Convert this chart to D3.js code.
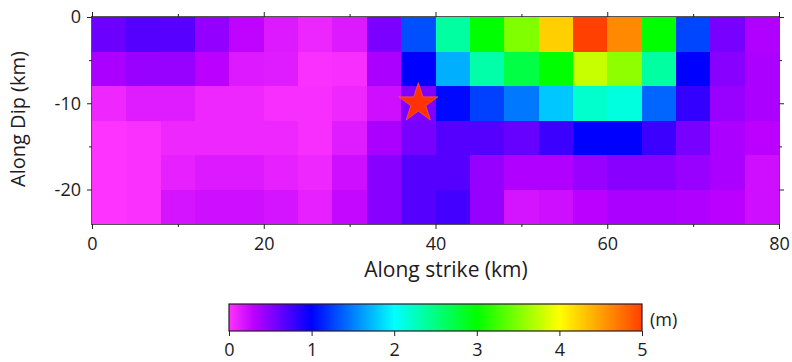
<!DOCTYPE html>
<html>
<head>
<meta charset="utf-8">
<script src="https://cdn.jsdelivr.net/npm/d3@7"></script>
<style>
  html, body { margin: 0; padding: 0; background: #fff; }
  svg { display: block; }
  text { font-family: "Open Sans", "DejaVu Sans", sans-serif; fill: #221a22; }
</style>
</head>
<body>
<svg id="chart" width="792" height="362"></svg>
<script>
// Fault patches: left edge along strike (km), top edge along dip (km)
const strikeStarts = [0, 4, 8, 12, 16, 20, 24, 28, 32, 36, 40, 44, 48, 52, 56, 60, 64, 68, 72, 76];
const dipStarts = [0, -4, -8, -12, -16, -20];
const patchSize = 4;

// Slip (m) per patch, one row per depth band, shallowest first
const slipRow1 = [0.60, 0.68, 0.67, 0.45, 0.28, 0.15, 0.08, 0.15, 0.54, 1.31, 2.37, 3.00, 3.50, 4.25, 5.00, 4.62, 3.00, 1.27, 0.55, 0.34];
const slipRow2 = [0.36, 0.43, 0.43, 0.30, 0.15, 0.14, 0.02, 0.03, 0.36, 1.00, 1.69, 2.34, 2.73, 3.00, 3.78, 3.56, 2.37, 1.00, 0.49, 0.36];
const slipRow3 = [0.07, 0.14, 0.14, 0.07, 0.07, 0.03, 0.03, 0.07, 0.22, 0.52, 1.03, 1.25, 1.47, 1.78, 2.20, 2.13, 1.40, 0.81, 0.43, 0.36];
const slipRow4 = [0.00, 0.02, 0.07, 0.07, 0.07, 0.07, 0.03, 0.14, 0.36, 0.55, 0.68, 0.68, 0.62, 0.78, 1.00, 1.00, 0.78, 0.55, 0.36, 0.30];
const slipRow5 = [0.00, 0.02, 0.11, 0.15, 0.15, 0.11, 0.07, 0.22, 0.49, 0.68, 0.68, 0.44, 0.34, 0.34, 0.43, 0.49, 0.49, 0.43, 0.36, 0.22];
const slipRow6 = [0.00, 0.02, 0.19, 0.22, 0.22, 0.19, 0.11, 0.26, 0.49, 0.68, 0.75, 0.44, 0.19, 0.22, 0.30, 0.36, 0.36, 0.34, 0.30, 0.22];
const slipRows = [slipRow1, slipRow2, slipRow3, slipRow4, slipRow5, slipRow6];

// Hypocenter
const hypoStrike = 38;
const hypoDip = -10;

// Axis ticks
const xMajorTicks = [0, 20, 40, 60, 80];
const xMinorTicks = [10, 30, 50, 70];
const yMajorTicks = [0, -10, -20];
const yMinorTicks = [-5, -15];
const colorTicks = [0, 1, 2, 3, 4, 5];

// Colour palette stops (slip in m)
const paletteStops = [0, 0.3, 1, 2, 3, 4, 5];
const paletteColors = ["#ff33ff", "#bb00ff", "#0000ff", "#00ffff", "#00ff00", "#ffff00", "#ff4000"];

const svg = d3.select("#chart");

const x = d3.scaleLinear().domain([0, 80]).range([92, 779]);
const y = d3.scaleLinear().domain([0, -24]).range([17, 224]);
const color = d3.scaleLinear().domain(paletteStops).range(paletteColors)
  .interpolate(d3.interpolateRgb).clamp(true);

// Flatten patches
const patches = [];
dipStarts.forEach((d0, i) => {
  strikeStarts.forEach((s0, j) => {
    patches.push({ s0, d0, slip: slipRows[i][j] });
  });
});

svg.append("g").selectAll("rect")
  .data(patches)
  .join("rect")
  .attr("x", d => x(d.s0))
  .attr("y", d => y(d.d0))
  .attr("width", d => x(d.s0 + patchSize) - x(d.s0) + 0.5)
  .attr("height", d => y(d.d0 - patchSize) - y(d.d0) + 0.5)
  .attr("fill", d => color(d.slip))
  .attr("shape-rendering", "crispEdges");

// Frame with outward ticks on all four sides
const frame = svg.append("g").attr("stroke-width", 1).attr("fill", "none");
frame.append("rect")
  .attr("x", x(0) - 0.5).attr("y", y(0) - 0.5)
  .attr("width", x(80) - x(0) + 1).attr("height", y(-24) - y(0) + 1)
  .attr("stroke", "#555");

const axTop = d3.axisTop(x).tickValues(xMajorTicks).tickSize(5).tickFormat("");
const axTopMinor = d3.axisTop(x).tickValues(xMinorTicks).tickSize(3).tickFormat("");
const axBottom = d3.axisBottom(x).tickValues(xMajorTicks).tickSize(5).tickFormat(d3.format("d")).tickPadding(8);
const axBottomMinor = d3.axisBottom(x).tickValues(xMinorTicks).tickSize(3).tickFormat("");
const axLeft = d3.axisLeft(y).tickValues(yMajorTicks).tickSize(5).tickFormat(d => d3.format("d")(d).replace("\u2212", "-")).tickPadding(6);
const axLeftMinor = d3.axisLeft(y).tickValues(yMinorTicks).tickSize(3).tickFormat("");
const axRight = d3.axisRight(y).tickValues(yMajorTicks).tickSize(5).tickFormat("");
const axRightMinor = d3.axisRight(y).tickValues(yMinorTicks).tickSize(3).tickFormat("");

function styleAxis(g) {
  g.select(".domain").remove();
  g.selectAll(".tick line").attr("stroke", "#222");
  g.selectAll(".tick text").attr("font-size", 18).attr("fill", "#221a22")
    .attr("font-family", "'Open Sans', 'DejaVu Sans', sans-serif");
}

svg.append("g").attr("transform", `translate(0,${y(0)})`).call(axTop).call(styleAxis);
svg.append("g").attr("transform", `translate(0,${y(0)})`).call(axTopMinor).call(styleAxis);
svg.append("g").attr("transform", `translate(0,${y(-24)})`).call(axBottom).call(styleAxis);
svg.append("g").attr("transform", `translate(0,${y(-24)})`).call(axBottomMinor).call(styleAxis);
svg.append("g").attr("transform", `translate(${x(0)},0)`).call(axLeft).call(styleAxis);
svg.append("g").attr("transform", `translate(${x(0)},0)`).call(axLeftMinor).call(styleAxis);
svg.append("g").attr("transform", `translate(${x(80)},0)`).call(axRight).call(styleAxis);
svg.append("g").attr("transform", `translate(${x(80)},0)`).call(axRightMinor).call(styleAxis);

// Axis titles
svg.append("text")
  .attr("x", 446).attr("y", 277)
  .attr("text-anchor", "middle").attr("font-size", 21)
  .attr("font-family", "'Liberation Sans', Arial, sans-serif")
  .attr("fill", "#111")
  .text("Along strike (km)");
svg.append("text")
  .attr("transform", "translate(25,119) rotate(-90)")
  .attr("text-anchor", "middle").attr("font-size", 20)
  .attr("font-family", "'Liberation Sans', Arial, sans-serif")
  .attr("fill", "#111")
  .text("Along Dip (km)");

// Hypocenter star
const star = d3.symbol().type(d3.symbolStar).size(480);
svg.append("path")
  .attr("d", star())
  .attr("transform", `translate(${x(hypoStrike)},${y(hypoDip)})`)
  .attr("fill", "#ff3300")
  .attr("stroke", "#ff6633").attr("stroke-width", 0.6);

// Colour bar
const cbX = d3.scaleLinear().domain([0, 5]).range([229, 642]);
const cbTop = 304, cbH = 27;
const defs = svg.append("defs");
const grad = defs.append("linearGradient").attr("id", "slipGrad")
  .attr("x1", "0%").attr("x2", "100%").attr("y1", "0%").attr("y2", "0%");
d3.range(0, 5.001, 0.05).forEach(v => {
  grad.append("stop").attr("offset", `${(v / 5) * 100}%`).attr("stop-color", color(v));
});
svg.append("rect")
  .attr("x", cbX(0)).attr("y", cbTop)
  .attr("width", cbX(5) - cbX(0)).attr("height", cbH)
  .attr("fill", "url(#slipGrad)")
  .attr("stroke", "#2a1a2a").attr("stroke-width", 1.2);

const cbAxis = d3.axisBottom(cbX).tickValues(colorTicks).tickSize(5).tickPadding(7).tickFormat(d3.format("d"));
svg.append("g").attr("transform", `translate(0,${cbTop + cbH})`).call(cbAxis).call(styleAxis);

svg.append("text")
  .attr("x", 650).attr("y", 326)
  .attr("font-size", 18)
  .text("(m)");
</script>
</body>
</html>
